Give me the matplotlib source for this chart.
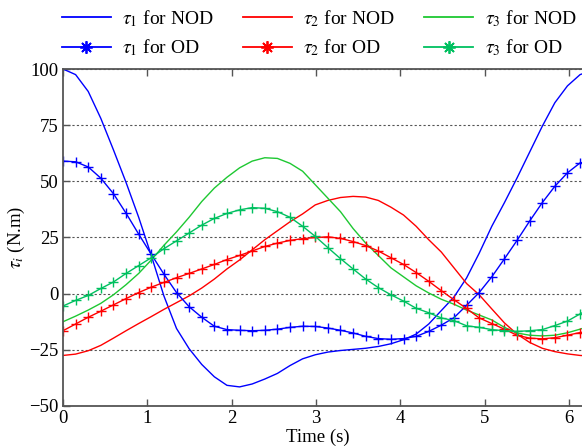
import numpy as np
import matplotlib
matplotlib.use("Agg")
import matplotlib.pyplot as plt
from matplotlib.lines import Line2D

plt.rcParams["font.family"] = ["Liberation Serif", "DejaVu Serif"]
plt.rcParams["mathtext.fontset"] = "stix"

# time grid (s), one sample per marker of the OD curves
t = np.linspace(0, 2 * np.pi, 43)

# torques without optimal design
tau1_nod = [100, 97.5, 90, 78, 64, 49.5, 34, 17, -1, -15.5, -24.5, -31.5, -37, -40.8,
            -41.5, -40.2, -38, -35.5, -32, -29, -27.2, -26, -25.3, -24.8, -24.3,
            -23.5, -22.3, -20.5, -18, -13.5, -7.5, -1.5, 7, 18, 30, 40.5, 51.5, 63,
            74.5, 85, 92.5, 97.5, 99.5]
tau2_nod = [-27.5, -26.9, -25.4, -23, -19.8, -16.5, -13.3, -10.2, -7, -4, -1, 2.5,
            6.5, 11, 15, 19.5, 24, 28, 32, 35.5, 39.5, 41.5, 42.8, 43.3, 43, 41.5,
            38.5, 35, 30, 24, 18.5, 11.5, 4.5, -0.5, -6.8, -13, -18, -21.7, -24.3,
            -25.8, -26.8, -27.5, -27.8]
tau3_nod = [-12.5, -10, -7.3, -4.3, -0.5, 4, 9, 15, 21.5, 27.5, 34, 41, 47, 51.8,
            56, 59, 60.5, 60.2, 58, 54.5, 48.5, 42.5, 36.5, 29, 22.5, 17, 11.5, 7.5,
            3.5, 0.3, -2.5, -4.7, -7.3, -9.5, -11.7, -15, -17.5, -18.5, -18.8, -18.5,
            -17.4, -15.8, -14]

# torques with optimal design
tau1_od = [59, 58.7, 56.4, 51.4, 44.5, 35.8, 26.5, 17.5, 8.7, 0.5, -5.8, -10.5, -14.5,
           -16, -16.3, -16.5, -16.3, -15.8, -15, -14.5, -14.6, -15.3, -16.3, -17.5,
           -19, -20, -20.3, -20, -19, -16.8, -14, -10.7, -5.2, 0.5, 7.5, 15.5, 23.7,
           32.3, 40.5, 47.8, 53.8, 58.2, 59.3]
tau2_od = [-16.5, -13.5, -10.5, -7.8, -5, -2.2, 0.5, 2.9, 5, 7.1, 9, 11, 13, 15.2,
           17, 19, 21, 22.5, 23.7, 24.5, 25, 25.3, 24.6, 23.2, 21.4, 19, 16, 13, 9.4,
           5.5, 1.3, -2.7, -6.6, -10.8, -13.3, -15.8, -18.5, -19.8, -20.1, -19.6,
           -18.5, -17.3, -16.5]
tau3_od = [-5.5, -3, -0.8, 2.3, 5.2, 9, 12.5, 16, 20, 23.5, 27, 30.5, 33.5, 35.7,
           37.3, 38.3, 38, 36.5, 34, 30, 25.5, 20.5, 15.6, 11, 6.5, 2.7, -0.5, -3.3,
           -6.5, -8.5, -10.8, -12, -14.3, -15, -16, -16.5, -16.8, -16.5, -16, -14.2,
           -12.2, -9, -6]

blue = "#0000ff"
red = "#ff0000"
green_nod = "#1ec832"
green_od = "#00c060"

fig = plt.figure(figsize=(5.82, 4.47), dpi=100)
ax = fig.add_axes((63 / 582, 1 - 406 / 447, 529.7 / 582, 337 / 447))

ax.plot(t, tau1_nod, color=blue, lw=1.0)
ax.plot(t, tau2_nod, color=red, lw=1.0)
ax.plot(t, tau3_nod, color=green_nod, lw=1.0)
mk = dict(marker="+", markersize=7, markeredgewidth=1.0, lw=1.0)
ax.plot(t, tau1_od, color=blue, **mk)
ax.plot(t, tau2_od, color=red, **mk)
ax.plot(t, tau3_od, color=green_od, **mk)

ax.set_xlim(0, 2 * np.pi)
ax.set_ylim(-50, 100)
ax.set_xticks(range(0, 7))
ax.set_yticks([-50, -25, 0, 25, 50, 75, 100])
ax.yaxis.grid(True, linestyle=(0, (2, 2)), color="#555555", lw=0.8)
ax.tick_params(direction="in", top=True, right=True, length=5, width=1.0,
               color="#555555", labelsize=13.5, pad=3)
for sp in ax.spines.values():
    sp.set_color("#555555")
    sp.set_linewidth(1.3)

ax.set_xlabel("Time (s)", fontsize=13.5)
ax.xaxis.set_label_coords(0.481, -0.068)
ax.set_ylabel(r"$\tau_i$ (N.m)", fontsize=13.5, labelpad=2)

ast = (8, 2, 0)
handles = [
    Line2D([], [], color=blue, lw=1.3),
    Line2D([], [], color=blue, lw=1.3, marker=ast, markersize=9, markeredgewidth=1.3),
    Line2D([], [], color=red, lw=1.3),
    Line2D([], [], color=red, lw=1.3, marker=ast, markersize=9, markeredgewidth=1.3),
    Line2D([], [], color=green_nod, lw=1.3),
    Line2D([], [], color=green_od, lw=1.3, marker=ast, markersize=9, markeredgewidth=1.3),
]
labels = [r"$\tau_1$ for NOD", r"$\tau_1$ for OD",
          r"$\tau_2$ for NOD", r"$\tau_2$ for OD",
          r"$\tau_3$ for NOD", r"$\tau_3$ for OD"]
fig.legend(handles, labels, ncol=3, loc="upper left",
           bbox_to_anchor=(62 / 582, 1 - 8 / 447), frameon=False,
           fontsize=14, handlelength=2.5, handletextpad=0.6,
           columnspacing=1.5, labelspacing=0.45, borderpad=0, borderaxespad=0)

fig.savefig("out.png", dpi=100)
